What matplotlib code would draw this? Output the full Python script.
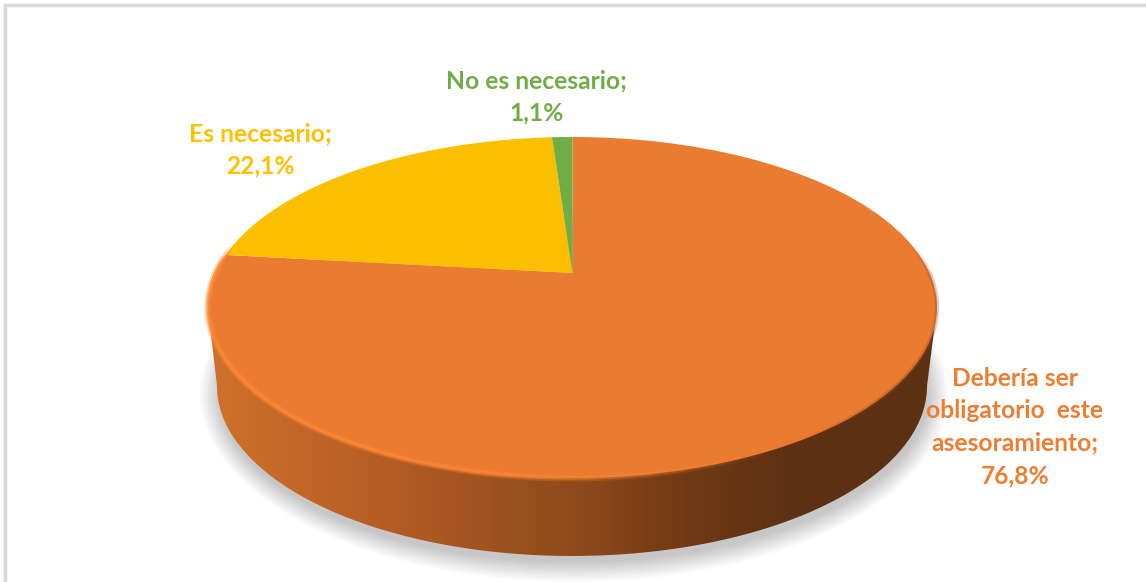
"""Perspective pie with a solid side wall, drawn in figure pixel coordinates."""

import matplotlib

matplotlib.use("Agg")
import matplotlib.pyplot as plt
import numpy as np
from matplotlib.collections import LineCollection
from matplotlib.colors import LinearSegmentedColormap, to_rgba
from matplotlib.patches import Ellipse, PathPatch
from matplotlib.path import Path
from matplotlib.transforms import Transform

# order is clockwise from 12 o'clock
categories = ["Debería ser\nobligatorio  este\nasesoramiento", "Es necesario", "No es necesario"]
shares = [76.8, 22.1, 1.1]
slice_colors = ["#EB7B31", "#FBBF00", "#70AD47"]
label_colors = ["#ED7D31", "#FFC000", "#70AD47"]

WIDTH, HEIGHT = 1146, 582
CX, CY = 572.5, 273.0
PERSPECTIVE = 0.2023
RADIUS = 357.0
SQUASH = -108.3


class PerspectiveDisc(Transform):
    """Map the unit disc to the tilted disc on the page, in pixels."""

    input_dims = output_dims = 2

    def transform_non_affine(self, values):
        u, v = values[:, 0], values[:, 1]
        w = 1 + PERSPECTIVE * v
        return np.column_stack([CX + RADIUS * u / w, (SQUASH * v + CY) / w])


def disc_arc(start_deg, stop_deg, n=200):
    t = np.deg2rad(np.linspace(start_deg, stop_deg, n))
    return PerspectiveDisc().transform_non_affine(np.column_stack([np.cos(t), np.sin(t)]))


def fading_line(points, stops, values, color, width, zorder):
    """Draw a polyline whose alpha follows values along its length."""
    alpha = np.interp(np.linspace(0, 1, len(points) - 1), stops, values)
    segments = np.stack([points[:-1], points[1:]], axis=1)
    ax.add_collection(LineCollection(segments, colors=[to_rgba(color, a) for a in alpha],
                                     linewidths=width, zorder=zorder, capstyle="butt"))


fig = plt.figure(figsize=(WIDTH / 100, HEIGHT / 100), dpi=100)
ax = fig.add_axes([0, 0, 1, 1])

wedges, _ = ax.pie(shares, colors=slice_colors, startangle=90, counterclock=False)
ax.set_aspect("auto")
ax.axis("off")

# chart frame, only the top and left edges show
ax.plot([4.5, 4.5], [5, HEIGHT], color="#D9D9D9", lw=2.5, zorder=0, solid_capstyle="butt")
ax.plot([3, WIDTH], [5, 5], color="#D9D9D9", lw=2.5, zorder=0, solid_capstyle="butt")

# soft shadow under the disc
for grow in np.arange(20, 0, -1.5):
    ax.add_patch(Ellipse((574, 394), 2 * (354 + grow), 2 * (168 + grow), fc="#000000", ec="none",
                         alpha=0.014, zorder=1))

# side wall: top outline joined to the lower ellipse, filled with a left to right gradient
top = disc_arc(0, 360, 720)
low_t = np.linspace(np.pi, 0, 360)
low = np.column_stack([572 + 355 * np.cos(low_t), 386 + 170 * np.sin(low_t)])
left_pt = top[np.argmin(top[:, 0])]
right_pt = top[np.argmax(top[:, 0])]
wall_path = Path(np.vstack([[left_pt], low, [right_pt], [left_pt]]))

wall_cmap = LinearSegmentedColormap.from_list(
    "wall",
    [(0.0, "#D0722C"), (0.25, "#B45C24"), (0.5, "#8F4A1C"), (0.68, "#6C3714"), (0.82, "#5C3013"), (1.0, "#5C3013")],
)
wall = ax.imshow(np.linspace(0, 1, 512)[None, :], cmap=wall_cmap, extent=(205, 940, 560, 290),
                 aspect="auto", zorder=2)
wall_patch = PathPatch(wall_path, transform=ax.transData, fc="none", ec="none")
ax.add_patch(wall_patch)
wall.set_clip_path(wall_patch)

ax.set_xlim(0, WIDTH)
ax.set_ylim(HEIGHT, 0)

disc_to_page = PerspectiveDisc() + ax.transData
for wedge in wedges:
    wedge.set_transform(disc_to_page)
    wedge.set_zorder(5)
    wedge.set_linewidth(0)

# rim highlight on the front edge, bright on the left and gone by the right
rim = disc_arc(-190, -62)
fading_line(rim, [0, 0.05, 0.7, 1], [0, 0.35, 0.3, 0], "#FF8A35", 5, 6)
fading_line(rim, [0, 0.05, 0.7, 1], [0, 0.8, 0.7, 0], "#FF8A35", 2.5, 6)

# dark soft edge on the right side of the disc
dark = disc_arc(-62, 10)
fading_line(dark, [0, 0.3, 0.85, 1], [0, 0.3, 0.3, 0], "#8A4A1C", 3, 6)

# labels
label_centers = [(1015, 427), (260, 150), (536.5, 97)]
for name, share, color, (x, y) in zip(categories, shares, label_colors, label_centers):
    text = f"{name};\n{share:.1f}%".replace(".", ",")
    ax.text(x, y, text, color=color, ha="center", va="center", fontsize=17.7, fontweight="bold",
            family="Lato", linespacing=1.5, zorder=7)

fig.savefig("out.png", dpi=100, facecolor="white")
